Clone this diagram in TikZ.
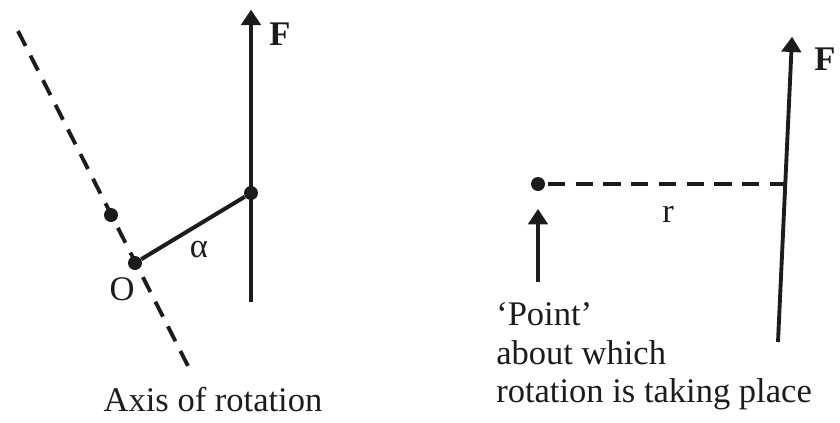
\documentclass[tikz,border=0pt]{standalone}
\usepackage{fontspec}
\setmainfont{Liberation Serif}
\usetikzlibrary{arrows.meta, positioning}

\definecolor{ink}{HTML}{1C1C1C}

\begin{document}
\begin{tikzpicture} [x=0.75pt, y=-0.75pt,
            draw=ink,
            text=ink,
            every node/.style={font=\fontsize{25.9pt}{28.5pt}\selectfont, inner sep=0pt},
            pivot/.style={circle, fill=ink, minimum size=10.5pt},
            force/.style={-{Triangle[length=11.5pt, width=14.5pt]}, line width=2.9pt, shorten >=-1pt},
            arm/.style={line width=3pt},
            axisline/.style={line width=2.9pt, dash pattern=on 12.5pt off 8.2pt},
            radiusline/.style={line width=3.1pt, dash pattern=on 13pt off 7.8pt},
            pointer/.style={-{Triangle[length=11.5pt, width=14.5pt]}, line width=2.6pt}]
            \useasboundingbox (0,0) rectangle (840,422);

            % Left figure
            \coordinate (axisTop) at (18,31);
            \coordinate (axisEnd) at (188,366);
            \coordinate (forceFootL) at (251,302);
            \coordinate (forceTipL) at (251,11);

            \node (mark) [pivot] at (111,215) {};
            \node (O) [pivot] at (135,263) {};
            \node (A) [pivot] at (251,193) {};

            \node (labelFL) at (280,34) {\textbf{F}};
            \node (labelAlpha) at (199,250) {α};
            \node (labelO) at (122,289) {O};
            \node (labelAxis) at (213,400) {Axis of rotation};

            \draw [axisline] (axisTop) -- (axisEnd);
            \draw [arm] (O) -- (A);
            \draw [force] (forceFootL) -- (forceTipL);

            % Right figure
            \coordinate (forceFootR) at (778,342);
            \coordinate (forceTipR) at (792,38);
            \coordinate (meet) at (786,184);
            \coordinate (pointerFoot) at (538,282);

            \node (P) [pivot] at (538,184) {};
            \node (pointerTip) at (538,208) {};

            \node (labelFR) at (825,59) {\textbf{F}};
            \node (labelR) at (668,214) {r};
            \node (labelPoint) [anchor=base west] at (496,325) {‘Point’};
            \node (labelAbout) [anchor=base west] at (496,364) {about which};
            \node (labelRot) [anchor=base west] at (496,402) {rotation is taking place};

            \draw [radiusline, dash phase=-2pt] (P) -- (meet);
            \draw [force] (forceFootR) -- (forceTipR);
            \draw [pointer] (pointerFoot) -- (pointerTip);
\end{tikzpicture}
\end{document}
